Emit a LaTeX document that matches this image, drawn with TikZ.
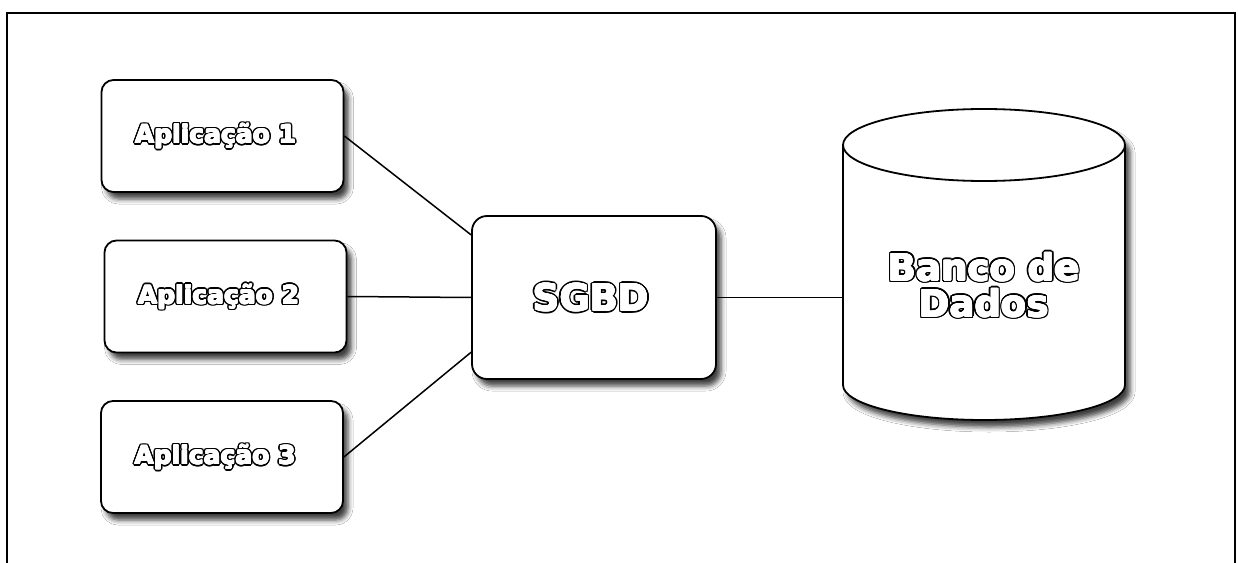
\documentclass[tikz,border=0pt]{standalone}
\usepackage{fontspec}
\setmainfont{DejaVu Sans}
\usetikzlibrary{shadows.blur}

% heavy white lettering with a black outline, built from offset copies;
% the box is filled with a plain \hbox so that it carries no colour of its own
\newsavebox\olbox
\newcommand\olcp[2]{\rlap{\hspace{#1bp}\raisebox{#2bp}{\copy\olbox}}}
\newcommand\olt[1]{{\setbox\olbox=\hbox{#1}%
  \color{black}%
  \olcp{2.1}{0}\olcp{1.94}{0.8}\olcp{1.48}{1.48}\olcp{0.8}{1.94}%
  \olcp{0}{2.1}\olcp{-0.8}{1.94}\olcp{-1.48}{1.48}\olcp{-1.94}{0.8}%
  \olcp{-2.1}{0}\olcp{-1.94}{-0.8}\olcp{-1.48}{-1.48}\olcp{-0.8}{-1.94}%
  \olcp{0}{-2.1}\olcp{0.8}{-1.94}\olcp{1.48}{-1.48}\olcp{1.94}{-0.8}%
  \color{white}%
  \olcp{0}{0}\olcp{0.6}{0}\olcp{-0.6}{0}\olcp{0}{0.6}\olcp{0}{-0.6}%
  \olcp{0.42}{0.42}\olcp{-0.42}{0.42}\olcp{0.42}{-0.42}\olcp{-0.42}{-0.42}%
  \hphantom{\copy\olbox}\vphantom{\copy\olbox}}}

\tikzset{
  dropshade/.style={blur shadow={shadow xshift=5bp, shadow yshift=-7bp,
      shadow blur radius=5bp, shadow opacity=75}},
  appbox/.style={draw, line width=1.8bp, fill=white, rounded corners=12bp,
      minimum width=242bp, minimum height=112bp, inner sep=0pt, dropshade,
      font=\bfseries\fontsize{25bp}{29bp}\selectfont},
  corebox/.style={appbox, rounded corners=15bp, minimum width=244bp,
      minimum height=163bp, font=\bfseries\fontsize{37bp}{36bp}\selectfont},
  link/.style={line width=1.5bp},
  outline/.style={line width=1.8bp}
}

\begin{document}
\begin{tikzpicture}[x=1bp, y=-1bp]
  \useasboundingbox (0,0) rectangle (1238,563);
  \fill[white] (0,0) rectangle (1238,563);
  % open frame
  \draw[line width=2.5bp] (7,563) -- (7,13) -- (1235,13) -- (1235,563);

  % client applications
  \node[appbox] (app1) at (222.5,136)   {\olt{Aplicação 1}\kern14bp};
  \node[appbox] (app2) at (225.5,296.5) {\olt{Aplicação 2}\kern14bp};
  \node[appbox] (app3) at (222,457)     {\olt{Aplicação 3}\kern14bp};

  % database management system
  \node[corebox] (sgbd) at (594,297.5) {\olt{SGBD}\kern6bp};

  % database cylinder
  \path[fill=white, dropshade]
    (843,145) -- (843,385)
    .. controls (843,404.3) and (906.1,420) .. (984,420)
    .. controls (1061.9,420) and (1125,404.3) .. (1125,385)
    -- (1125,145)
    .. controls (1125,125.1) and (1061.9,109) .. (984,109)
    .. controls (906.1,109) and (843,125.1) .. (843,145) -- cycle;
  \draw[outline]
    (843,145) -- (843,385)
    .. controls (843,404.3) and (906.1,420) .. (984,420)
    .. controls (1061.9,420) and (1125,404.3) .. (1125,385)
    -- (1125,145);
  \draw[outline] (984,145) ellipse [x radius=141bp, y radius=36bp];
  \node[align=center, inner sep=0pt,
        font=\bfseries\fontsize{37bp}{36bp}\selectfont]
    (db) at (984,285) {\olt{Banco de}\\\olt{Dados}};
  \coordinate (dbin) at (843,297.5);

  % connectors
  \draw[link] (app1.east) -- (sgbd.153);
  \draw[link] (app2.east) -- (sgbd.west);
  \draw[link] (app3.east) -- (sgbd.204);
  \draw[link] (sgbd.east) -- (dbin);
\end{tikzpicture}
\end{document}
